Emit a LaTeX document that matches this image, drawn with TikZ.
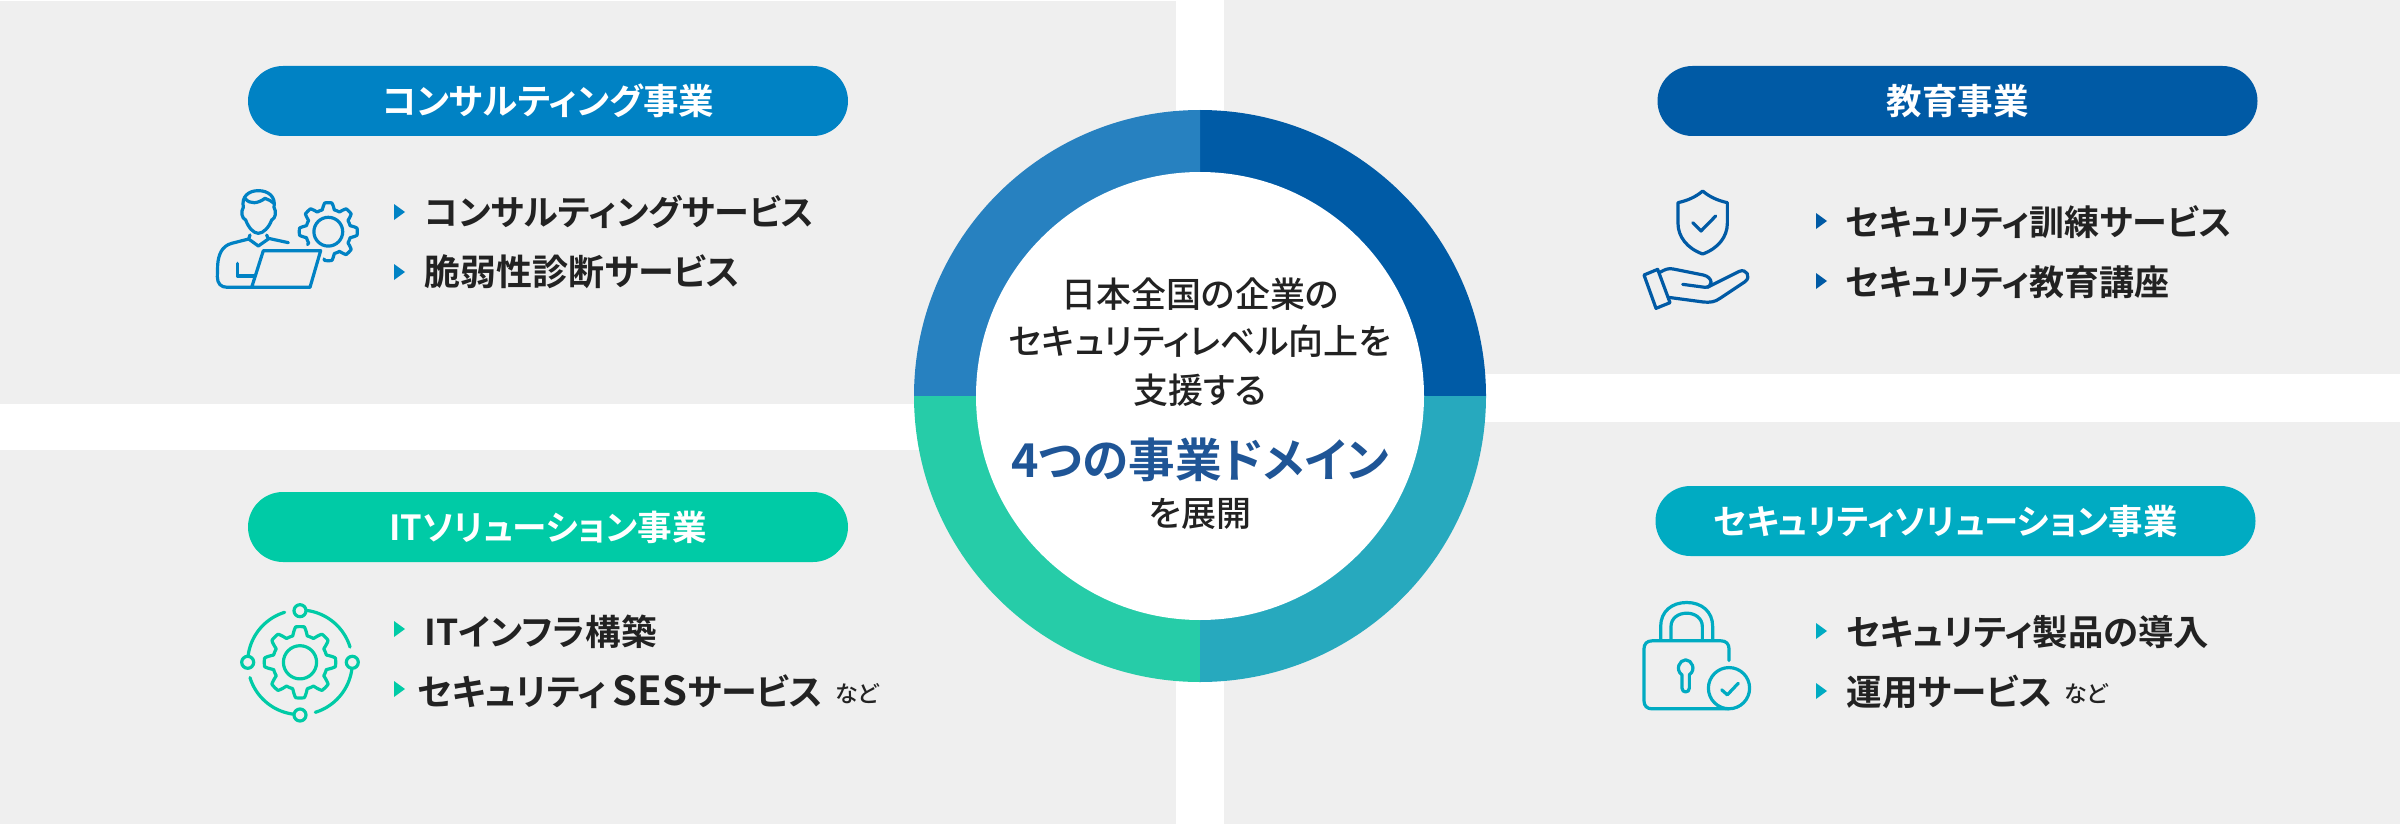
\documentclass[tikz,border=0pt]{standalone}
\usepackage{fontspec}
\setmainfont{Noto Sans CJK JP}
\newfontfamily\jpb[RawFeature=+palt]{Noto Sans CJK JP Bold}
\newfontfamily\jpm[RawFeature=+palt]{Noto Sans CJK JP Medium}
\definecolor{cPanel}{HTML}{EFEFEF}
\definecolor{cInk}{HTML}{222222}
\definecolor{cNavy}{HTML}{1F5596}
\definecolor{cA}{HTML}{0082C4}
\definecolor{cB}{HTML}{005AA5}
\definecolor{cC}{HTML}{00CBA6}
\definecolor{cD}{HTML}{00ABC2}
\definecolor{rA}{HTML}{2781C0}
\definecolor{rB}{HTML}{005BA6}
\definecolor{rC}{HTML}{26CCA8}
\definecolor{rD}{HTML}{27A9BE}
\tikzset{
  panel/.style={fill=cPanel,draw=none},
  pill/.style={rounded corners=17.5pt,minimum width=300pt,minimum height=35pt,inner sep=0pt,text=white,font=\jpb\fontsize{17.75}{20}\selectfont},
  listitem/.style={anchor=west,inner sep=0pt,text=cInk,font=\jpb\fontsize{17.6}{20}\selectfont},
  nado/.style={anchor=west,inner sep=0pt,text=cInk,font=\jpm\fontsize{11.5}{13}\selectfont},
  centre/.style={inner sep=0pt,text=cInk,font=\jpm\fontsize{17.5}{20}\selectfont},
  icon/.style={line width=1.6pt,line cap=round,line join=round},
}
\newcommand\listtri[3]{\fill[#3] (#1,#2-8) -- (#1+11,#2) -- (#1,#2+8) -- cycle;}
% gear: cx cy rmid amp from to phase colour
\newcommand\geartrace[8]{\draw[icon,#8] plot[domain=#5:#6,samples=260,variable=\t]
  ({#1+(#3+#4*max(-1,min(1,1.8*cos(8*\t+#7))))*sin(\t)},{#2-(#3+#4*max(-1,min(1,1.8*cos(8*\t+#7))))*cos(\t)});}
\newcommand\arcsweep[6]{\draw[icon,#6] plot[domain=#4:#5,samples=50,variable=\t] ({#1+#3*sin(\t)},{#2-#3*cos(\t)});}
\begin{document}
\begin{tikzpicture}[x=0.5pt,y=-0.5pt]
\useasboundingbox (0,0) rectangle (2400,824);
\fill[white] (0,0) rectangle (2400,824);
% panels
\fill[panel] (0,1) rectangle (1176,404);
\fill[panel] (1224,0) rectangle (2400,374);
\fill[panel] (0,450) rectangle (1176,824);
\fill[panel] (1224,422) rectangle (2400,824);
% ring
\fill[rB] (1200,396) -- (1486,396) arc[start angle=0,end angle=90,radius=143pt] -- cycle;
\fill[rA] (1200,396) -- (1200,110) arc[start angle=90,end angle=180,radius=143pt] -- cycle;
\fill[rC] (1200,396) -- (914,396) arc[start angle=180,end angle=270,radius=143pt] -- cycle;
\fill[rD] (1200,396) -- (1200,682) arc[start angle=270,end angle=360,radius=143pt] -- cycle;
\fill[white] (1200,396) circle[radius=112pt];
% centre text
\node[centre] (c1) at (1200,294) {日本全国の企業の};
\node[centre] (c2) at (1200,341) {セキュリティレベル向上を};
\node[centre] (c3) at (1200,390) {支援する};
\node[centre,text=cNavy,font=\jpb\fontsize{23.3}{26}\selectfont] (c4) at (1200,460) {4つの事業ドメイン};
\node[centre] (c5) at (1200,514) {を展開};
% pills
\node[pill,fill=cA] (p1) at (548,101) {コンサルティング事業};
\node[pill,fill=cB] (p2) at (1957.5,101) {教育事業};
\node[pill,fill=cC,font=\jpb\fontsize{17.3}{20}\selectfont] (p3) at (548,527) {ITソリューション事業};
\node[pill,fill=cD,font=\jpb\fontsize{17.2}{20}\selectfont] (p4) at (1955.5,521) {セキュリティソリューション事業\hspace*{10pt}};
% lists
\listtri{394}{212}{cA}\listtri{394}{272}{cA}
\node[listitem,font=\jpb\fontsize{17.5}{20}\selectfont] (a1) at (424,212) {コンサルティングサービス};
\node[listitem,font=\jpb\fontsize{18}{20}\selectfont] (a2) at (424,272) {脆弱性診断サービス};
\listtri{1816}{221}{cB}\listtri{1816}{281}{cB}
\node[listitem,font=\jpb\fontsize{17.5}{20}\selectfont] (b1) at (1845,222) {セキュリティ訓練サービス};
\node[listitem,font=\jpb\fontsize{17.5}{20}\selectfont] (b2) at (1845,282) {セキュリティ教育講座};
\listtri{394}{629}{cC}\listtri{394}{689}{cC}
\node[listitem,font=\jpb\fontsize{17.8}{20}\selectfont] (d1) at (424,632) {ITインフラ構築};
\node[listitem,font=\jpb\fontsize{18}{20}\selectfont] (d2) at (417,692) {セキュリティ\hspace{3pt}{\fontsize{20}{20}\selectfont SES}サービス};
\node[nado] (d3) at (835,694) {など};
\listtri{1816}{631}{cD}\listtri{1816}{691}{cD}
\node[listitem,font=\jpb\fontsize{17.7}{20}\selectfont] (e1) at (1846,632) {セキュリティ製品の導入};
\node[listitem,font=\jpb\fontsize{17.8}{20}\selectfont] (e2) at (1846,692) {運用サービス};
\node[nado] (e3) at (2064,694) {など};
% person icon
\begin{scope}[shift={(200,170)},x=0.1666667pt,y=-0.1666667pt]
\draw[icon,cA] (130,112) .. controls (122,125) and (125,145) .. (137,150) .. controls (145,172) and (160,190) .. (175,190) .. controls (190,190) and (207,172) .. (215,150) .. controls (227,145) and (230,125) .. (222,112) .. controls (228,80) and (205,62) .. (175,62) .. controls (145,62) and (124,80) .. (130,112);
\draw[icon,cA] (135,85) .. controls (150,105) and (175,100) .. (195,85) .. controls (205,90) and (215,92) .. (222,100);
\draw[icon,cA] (150,195) -- (146,207) -- (175,228) -- (205,207) -- (200,195);
\draw[icon,cA] (205,205) -- (265,218);
\draw[icon,cA] (146,207) -- (95,220) .. controls (65,228) and (55,255) .. (53,285) -- (52,320) .. controls (52,340) and (62,352) .. (82,352) -- (330,352) -- (362,242) -- (190,242) -- (155,352);
\draw[icon,cA] (112,280) -- (112,318) -- (165,318);
\end{scope}
\geartrace{328.3}{231.7}{25.8}{3.2}{238}{549}{0}{cA}
\draw[icon,cA] (328.3,231.7) circle[radius=7.2pt];
% shield and hand
\begin{scope}[shift={(1620,180)},x=0.1666667pt,y=-0.1666667pt]
\draw[icon,cB] (248,33) .. controls (270,52) and (295,62) .. (322,68) -- (322,130) .. controls (322,170) and (295,205) .. (248,222) .. controls (201,205) and (174,170) .. (174,130) -- (174,68) .. controls (201,62) and (226,52) .. (248,33) -- cycle;
\draw[icon,cB] (218,128) -- (243,153) -- (287,108);
\draw[icon,cB] (72,285) -- (113,268) -- (150,368) -- (108,385) -- cycle;
\draw[icon,cB] (120,277) .. controls (135,268) and (145,264) .. (160,267) -- (250,285) .. controls (280,292) and (280,322) .. (255,322) -- (188,313);
\draw[icon,cB] (262,322) -- (358,274) .. controls (378,265) and (395,290) .. (375,305) -- (300,355) .. controls (285,366) and (270,368) .. (250,366) -- (145,352);
\end{scope}
% IT icon
\geartrace{300}{662.3}{31.5}{4.2}{0}{360}{0}{cC}
\draw[icon,cC] (300,662.3) circle[radius=8.3pt];
\foreach \a in {0,90,180,270}{\arcsweep{300}{662.3}{52.3}{\a+8}{\a+73}{cC}}
\draw[icon,cC] (300,610.7) circle[radius=3pt];
\draw[icon,cC] (352.3,662.3) circle[radius=3pt];
\draw[icon,cC] (300,715) circle[radius=3pt];
\draw[icon,cC] (247.7,662.3) circle[radius=3pt];
% lock icon
\begin{scope}[shift={(1620,591.5)},x=0.1666667pt,y=-0.1666667pt]
\draw[icon,cD] (122,145) -- (122,105) .. controls (122,60) and (155,33) .. (200,33) .. controls (245,33) and (278,60) .. (278,105) -- (278,145);
\draw[icon,cD] (153,145) -- (153,105) .. controls (153,80) and (175,65) .. (200,65) .. controls (225,65) and (247,80) .. (247,105) -- (247,145);
\draw[icon,cD] (327,207) -- (327,172) .. controls (327,157) and (318,148) .. (303,148) -- (96,148) .. controls (81,148) and (72,157) .. (72,172) -- (72,328) .. controls (72,343) and (81,352) .. (96,352) -- (325,352);
\draw[icon,cD] (186,250) .. controls (165,235) and (178,205) .. (197,205) .. controls (216,205) and (229,235) .. (208,250) -- (208,290) .. controls (208,305) and (186,305) .. (186,290) -- cycle;
\draw[icon,cD] (327,290) circle[radius=10.3pt];
\draw[icon,cD] (305,295) -- (322,310) -- (355,275);
\end{scope}
\end{tikzpicture}
\end{document}
